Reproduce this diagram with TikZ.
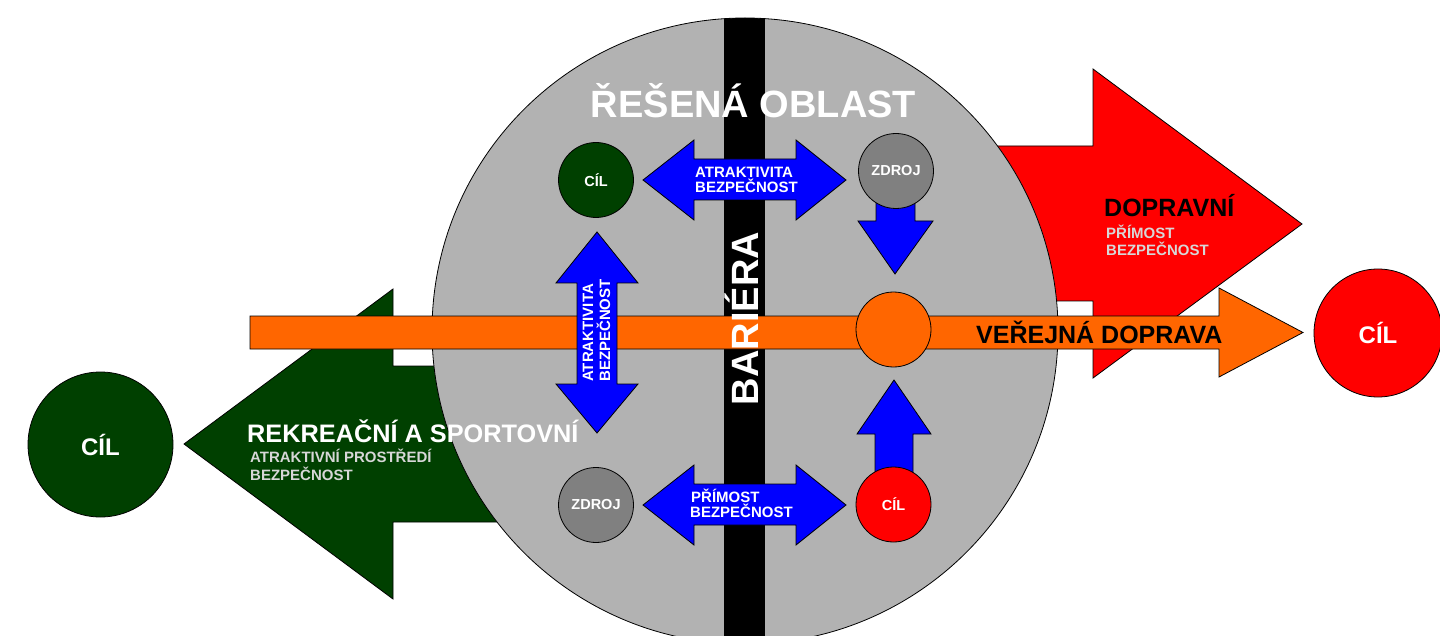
\documentclass[tikz,border=0pt]{standalone}
\usepackage{fontspec}
\setmainfont{Liberation Sans}
\newcommand\myfs[1]{\fontsize{#1pt}{#1pt}\selectfont\bfseries}
\definecolor{dgreen}{RGB}{0,64,0}
\definecolor{areagray}{RGB}{178,178,178}
\definecolor{srcgray}{RGB}{128,128,128}
\definecolor{orng}{RGB}{255,102,0}
\definecolor{lgray}{RGB}{215,215,215}
\tikzset{
  shapeline/.style={draw=black, line width=0.8pt, line join=miter},
  smallcirc/.style={circle, shapeline, minimum size=75pt, inner sep=0pt, text=white, font=\myfs{14.5}},
  bigcirc/.style={circle, shapeline, inner sep=0pt, text=white, font=\myfs{24}},
  txt/.style={inner sep=0pt, anchor=base west},
  bluearrow/.style={shapeline, fill=blue},
}
\begin{document}
\begin{tikzpicture}[x=1pt, y=-1pt]
\useasboundingbox (0,0) rectangle (1440,636);
\clip (0,0) rectangle (1440,636);
% big arrows behind the area
\draw[shapeline, fill=dgreen] (184,444) -- (393,289) -- (393,366) -- (700,366) -- (700,522) -- (393,522) -- (393,599) -- cycle;
\draw[shapeline, fill=red] (1302,224) -- (1093,69) -- (1093,146) -- (800,146) -- (800,301) -- (1093,301) -- (1093,378) -- cycle;
% area
\node[circle, shapeline, fill=areagray, minimum size=626pt, inner sep=0pt] (area) at (745,331) {};
\begin{scope}
  \clip (745,331) circle (313pt);
  \fill[black] (724,0) rectangle (765,636);
\end{scope}
\node[txt, anchor=base, text=white, font=\myfs{38}] (title) at (753.5,118) {ŘEŠENÁ OBLAST};
% orange arrow
\draw[shapeline, fill=orng] (250,316) -- (1219,316) -- (1219,288) -- (1303,332.5) -- (1219,377) -- (1219,349) -- (250,349) -- cycle;
% barrier text
\node[txt, anchor=base, rotate=90, text=white, font=\myfs{38}] (barrier) at (758,318.5) {BARIÉRA};
% blue arrows
\draw[bluearrow] (643,180) -- (694,140) -- (694,159) -- (796,159) -- (796,140) -- (846,180) -- (796,220) -- (796,200) -- (694,200) -- (694,220) -- cycle;
\draw[bluearrow] (643,505) -- (694,465) -- (694,484) -- (796,484) -- (796,465) -- (846,505) -- (796,545) -- (796,525) -- (694,525) -- (694,545) -- cycle;
\draw[bluearrow] (597,232) -- (638,283) -- (617,283) -- (617,384) -- (638,384) -- (597,433) -- (556,384) -- (577,384) -- (577,283) -- (556,283) -- cycle;
\draw[bluearrow] (876,190) -- (915,190) -- (915,221) -- (933,221) -- (895,274) -- (858,221) -- (876,221) -- cycle;
\draw[bluearrow] (894,380) -- (931,434) -- (913,434) -- (913,485) -- (875,485) -- (875,434) -- (857,434) -- cycle;
% blue arrow texts
\node[txt, text=white, font=\myfs{15}] (t1a) at (695,178) {ATRAKTIVITA};
\node[txt, text=white, font=\myfs{15}] (t1b) at (695,193) {BEZPEČNOST};
\node[txt, text=white, font=\myfs{15}] (t2a) at (691,502) {PŘÍMOST};
\node[txt, text=white, font=\myfs{15}] (t2b) at (690,517) {BEZPEČNOST};
\node[txt, rotate=90, text=white, font=\myfs{15}] (t3a) at (593,382) {ATRAKTIVITA};
\node[txt, rotate=90, text=white, font=\myfs{15}] (t3b) at (610,382) {BEZPEČNOST};
% small circles
\node[smallcirc, fill=dgreen] (cil1) at (596,180) {CÍL};
\node[smallcirc, fill=srcgray] (zdroj1) at (896,171) {ZDROJ};
\node[smallcirc, fill=srcgray] (zdroj2) at (596,505) {ZDROJ};
\node[smallcirc, fill=red] (cil2) at (893.5,504.5) {CÍL};
\node[smallcirc, fill=orng] (stop) at (893.5,329.5) {};
% labels of big arrows
\node[txt, text=black, font=\myfs{25}] (verejna) at (976,343) {VEŘEJNÁ DOPRAVA};
\node[txt, text=white, font=\myfs{25.3}] (rekr) at (247,442) {REKREAČNÍ A SPORTOVNÍ};
\node[txt, text=lgray, font=\myfs{15}] (rekra) at (250,462) {ATRAKTIVNÍ PROSTŘEDÍ};
\node[txt, text=lgray, font=\myfs{15}] (rekrb) at (250,480) {BEZPEČNOST};
\node[txt, text=black, font=\myfs{25}] (dopr) at (1104,217) {DOPRAVNÍ};
\node[txt, text=lgray, font=\myfs{15}] (dopra) at (1106,239) {PŘÍMOST};
\node[txt, text=lgray, font=\myfs{15}] (doprb) at (1106,256) {BEZPEČNOST};
% big target circles
\node[bigcirc, fill=dgreen, minimum size=145pt] (cilL) at (100.5,444.5) {CÍL};
\node[bigcirc, fill=red, minimum size=128pt] (cilR) at (1378,333) {CÍL};
\end{tikzpicture}
\end{document}
